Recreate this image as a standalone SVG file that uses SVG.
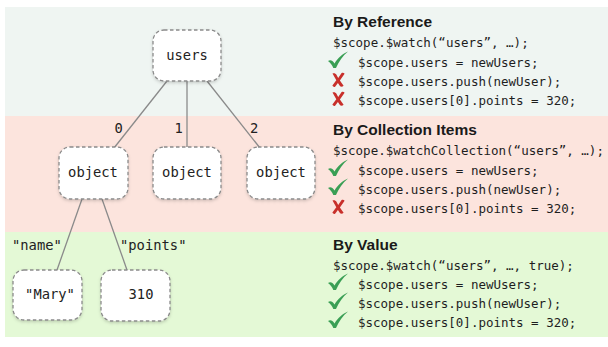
<svg xmlns="http://www.w3.org/2000/svg" width="608" height="347" viewBox="0 0 608 347">
<style>
.band1{fill:#eff5f2}
.band2{fill:#fce4dd}
.band3{fill:#e4f9d6}
.box{fill:#ffffff;stroke:#8a8a8a;stroke-width:1.3;stroke-dasharray:3.5 2.5}
.node{font-family:"DejaVu Sans Mono","Liberation Mono",monospace;font-size:13.8px;fill:#222;text-anchor:middle}
.lbl{font-family:"DejaVu Sans Mono","Liberation Mono",monospace;font-size:13.8px;fill:#222}
.conn line{stroke:#8a8a8a;stroke-width:1.3}
.title{font-family:"Liberation Sans",Arial,sans-serif;font-weight:bold;font-size:15.5px;fill:#1a1a1a}
.code{font-family:"DejaVu Sans Mono","Liberation Mono",monospace;font-size:12.5px;fill:#1e1e1e}
.ok{fill:#3a9f55}
.no{fill:#c8302b}
</style>
<defs>
<filter id="sh" x="-20%" y="-20%" width="140%" height="150%">
<feDropShadow dx="0" dy="1.5" stdDeviation="1.5" flood-color="#000" flood-opacity="0.18"/>
</filter>
<path id="chk" d="M-1,8 C1.5,6.5 3.5,7.5 5.5,10.5 C9,4.5 13.5,1 19,-1.5 C13.5,3 10,8.5 7,15 L4.3,15 C3.3,12.3 1.5,9.8 -1,8 Z"/>
<path id="crs" d="M-0.5,-0.5 C1.2,-1.2 2.6,-0.6 3.3,0.6 L5.2,4 L8.6,-1 C9.7,-1.6 11,-1.3 11.6,-0.3 L6.9,6.5 L10.6,11.8 C9.6,12.8 8,13 7.1,12.2 L4.9,8.9 L1.9,13 C0.8,13.2 -0.2,12.6 -0.6,11.6 L3.3,6.3 Z"/>
</defs>
<rect class="band1" x="5" y="7" width="603" height="109"/>
<rect class="band2" x="5" y="116" width="603" height="116"/>
<rect class="band3" x="5" y="232" width="603" height="105"/>

<g id="connectors" class="conn">
<line x1="167" y1="81" x2="114" y2="148"/>
<line x1="187" y1="81" x2="187" y2="148"/>
<line x1="207" y1="81" x2="260" y2="148"/>
<line x1="82" y1="199" x2="57" y2="270"/>
<line x1="102" y1="199" x2="127" y2="270"/>
</g>
<g id="edge-labels">
<text class="lbl" x="114.5" y="133">0</text>
<text class="lbl" x="174.5" y="133">1</text>
<text class="lbl" x="250" y="133">2</text>
<text class="lbl" x="12" y="250">"name"</text>
<text class="lbl" x="120" y="250">"points"</text>
</g>

<g id="node-users">
<rect class="box" filter="url(#sh)" x="153" y="30" width="68" height="51" rx="11"/>
<text class="node" x="187" y="60">users</text>
</g>
<g id="node-object0">
<rect class="box" filter="url(#sh)" x="59" y="147" width="69" height="52" rx="11"/>
<text class="node" x="93" y="177">object</text>
</g>
<g id="node-object1">
<rect class="box" filter="url(#sh)" x="153" y="147" width="68" height="52" rx="11"/>
<text class="node" x="187" y="177">object</text>
</g>
<g id="node-object2">
<rect class="box" filter="url(#sh)" x="247" y="147" width="68" height="52" rx="11"/>
<text class="node" x="281" y="177">object</text>
</g>
<g id="node-mary">
<rect class="box" filter="url(#sh)" x="13" y="270" width="69" height="50" rx="11"/>
<text class="node" x="50" y="299">"Mary"</text>
</g>
<g id="node-310">
<rect class="box" filter="url(#sh)" x="101" y="270" width="69" height="51" rx="11"/>
<text class="node" x="141" y="299">310</text>
</g>

<g id="by-reference">
<text class="title" x="333" y="27">By Reference</text>
<text class="code" x="333" y="47">$scope.$watch(“users”, …);</text>
<use href="#chk" class="ok" x="329" y="53"/>
<text class="code" x="358" y="67">$scope.users = newUsers;</text>
<use href="#crs" class="no" x="333" y="74"/>
<text class="code" x="358" y="86">$scope.users.push(newUser);</text>
<use href="#crs" class="no" x="333" y="93"/>
<text class="code" x="358" y="105">$scope.users[0].points = 320;</text>
</g>
<g id="by-collection">
<text class="title" x="333" y="135">By Collection Items</text>
<text class="code" x="333" y="155">$scope.$watchCollection(“users”, …);</text>
<use href="#chk" class="ok" x="329" y="161"/>
<text class="code" x="358" y="175">$scope.users = newUsers;</text>
<use href="#chk" class="ok" x="329" y="180"/>
<text class="code" x="358" y="194">$scope.users.push(newUser);</text>
<use href="#crs" class="no" x="333" y="201"/>
<text class="code" x="358" y="213">$scope.users[0].points = 320;</text>
</g>
<g id="by-value">
<text class="title" x="333" y="250">By Value</text>
<text class="code" x="333" y="270">$scope.$watch(“users”, …, true);</text>
<use href="#chk" class="ok" x="329" y="275"/>
<text class="code" x="358" y="289">$scope.users = newUsers;</text>
<use href="#chk" class="ok" x="329" y="294"/>
<text class="code" x="358" y="308">$scope.users.push(newUser);</text>
<use href="#chk" class="ok" x="329" y="313"/>
<text class="code" x="358" y="327">$scope.users[0].points = 320;</text>
</g>
</svg>
